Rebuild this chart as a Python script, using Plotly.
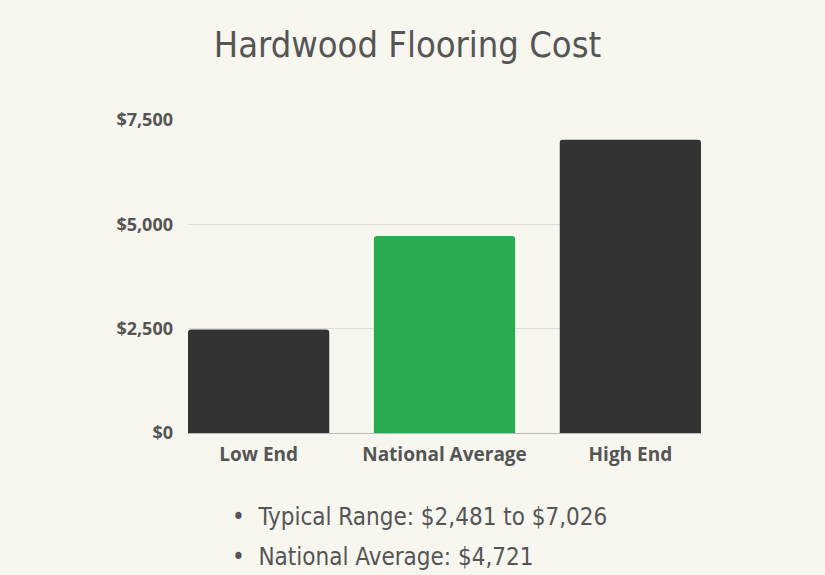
import plotly.graph_objects as go

categories = ['Low End', 'National Average', 'High End']
costs = [2481, 4721, 7026]
bar_colors = ['#333333', '#29ac51', '#333333']
y_ticks = [0, 2500, 5000, 7500]
y_tick_text = [f'${v:,}' for v in y_ticks]

title_font = 'DejaVu Sans Condensed, Liberation Sans Narrow, sans-serif'
text_gray = '#555555'

fig = go.Figure(go.Bar(
    x=categories, y=costs,
    marker=dict(color=bar_colors, cornerradius=3, line=dict(width=0)),
    width=0.76, hoverinfo='skip',
))

bullets = [
    f'Typical Range: ${costs[0]:,} to ${costs[2]:,}',
    f'National Average: ${costs[1]:,}',
]
for i, line in enumerate(bullets):
    fig.add_annotation(
        x=0.082, y=-0.269 - i * 0.128, xref='paper', yref='paper',
        xanchor='left', yanchor='middle', showarrow=False,
        text='•  ' + line,
        font=dict(family=title_font, size=24, color=text_gray),
    )

fig.update_layout(
    width=825, height=575,
    margin=dict(l=188, r=124, t=120, b=142),
    paper_bgcolor='#f7f7f0', plot_bgcolor='#f7f7f0',
    title=dict(text='Hardwood Flooring Cost', x=0.494, xanchor='center',
               y=0.922, yanchor='middle',
               font=dict(family=title_font, size=36, color=text_gray)),
    showlegend=False,
)
fig.update_xaxes(
    range=[-0.38, 2.38], showgrid=False, showline=False, ticks='',
    ticklabelstandoff=8,
    tickfont=dict(family='Open Sans', size=19, color=text_gray, weight='bold'),
)
fig.update_yaxes(
    range=[0, 7500], tickvals=y_ticks, ticktext=y_tick_text,
    showgrid=True, gridcolor='#dddddd', gridwidth=1,
    zeroline=True, zerolinecolor='#bbbbbb', zerolinewidth=1,
    showline=False, ticks='', ticklabelstandoff=14,
    tickfont=dict(family='Open Sans', size=18, color=text_gray, weight='bold'),
)

fig.write_html('out.html', config={'displayModeBar': False},
               post_script="document.body.style.margin='0';")
